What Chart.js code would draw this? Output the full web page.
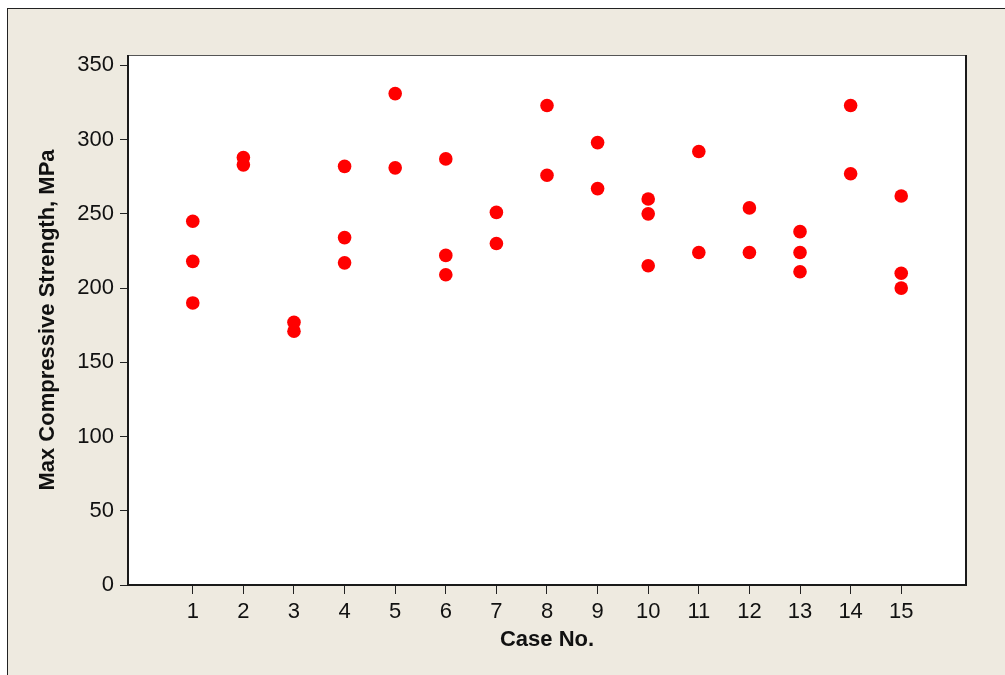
<!DOCTYPE html>
<html>
<head>
<meta charset="utf-8">
<script src="https://cdn.jsdelivr.net/npm/chart.js@4"></script>
<style>
  html, body { margin: 0; padding: 0; background: #ffffff; width: 1005px; height: 675px; overflow: hidden; }
  #frame { position: absolute; left: 7px; top: 8px; width: 1100px; height: 800px;
           background: #eeeae0; border-left: 1px solid #222; border-top: 1px solid #222; }
  #chart { position: absolute; left: 0; top: 0; }
</style>
</head>
<body>
<div id="frame"></div>
<canvas id="chart" width="1005" height="675"></canvas>
<script>
// Case number for each specimen and its measured max compressive strength (MPa)
const caseNo = [
  1, 1, 1,
  2, 2,
  3, 3,
  4, 4, 4,
  5, 5,
  6, 6, 6,
  7, 7,
  8, 8,
  9, 9,
  10, 10, 10,
  11, 11,
  12, 12,
  13, 13, 13,
  14, 14,
  15, 15, 15
];
const strength = [
  245, 218, 190,
  288, 283,
  177, 171,
  282, 234, 217,
  331, 281,
  287, 222, 209,
  251, 230,
  323, 276,
  298, 267,
  260, 250, 215,
  292, 224,
  254, 224,
  238, 224, 211,
  323, 277,
  262, 210, 200
];
const caseTicks = [1, 2, 3, 4, 5, 6, 7, 8, 9, 10, 11, 12, 13, 14, 15];
const strengthTicks = [0, 50, 100, 150, 200, 250, 300, 350];

const textColor = '#111111';
const tickFont = { family: 'Liberation Sans', size: 22 };
const titleFont = { family: 'Liberation Sans', size: 22, weight: 'bold' };

// White plot panel with a dark outline
const plotPanel = {
  id: 'plotPanel',
  beforeDraw(chart) {
    const { ctx, chartArea: a } = chart;
    ctx.save();
    ctx.fillStyle = '#ffffff';
    ctx.fillRect(a.left, a.top, a.right - a.left, a.bottom - a.top);
    ctx.restore();
  },
  afterDraw(chart) {
    const { ctx, chartArea: a } = chart;
    ctx.save();
    ctx.strokeStyle = '#555555';
    ctx.lineWidth = 1;
    ctx.beginPath();
    ctx.moveTo(a.left, a.top + 0.5);
    ctx.lineTo(a.right, a.top + 0.5);
    ctx.stroke();
    ctx.strokeStyle = '#1a1a1a';
    ctx.lineWidth = 2;
    ctx.beginPath();
    ctx.moveTo(a.left, a.top);
    ctx.lineTo(a.left, a.bottom);
    ctx.lineTo(a.right, a.bottom);
    ctx.lineTo(a.right, a.top);
    ctx.stroke();
    ctx.restore();
  }
};

new Chart(document.getElementById('chart'), {
  type: 'scatter',
  data: {
    datasets: [{
      data: caseNo.map((c, i) => ({ x: c, y: strength[i] })),
      pointRadius: 6.8,
      pointHoverRadius: 6.8,
      pointBackgroundColor: '#ff0000',
      pointBorderWidth: 0
    }]
  },
  options: {
    responsive: false,
    devicePixelRatio: 1,
    animation: false,
    layout: { padding: { top: 55, right: 39, left: 0, bottom: 0 } },
    plugins: { legend: { display: false }, tooltip: { enabled: false } },
    scales: {
      x: {
        type: 'linear',
        min: -0.28,
        max: 16.28,
        afterBuildTicks: s => { s.ticks = caseTicks.map(v => ({ value: v })); },
        afterFit: s => { s.height = 90; },
        grid: { display: true, drawOnChartArea: false, drawTicks: true, tickLength: 9, tickColor: '#222', tickWidth: 1 },
        border: { display: false },
        ticks: { font: tickFont, color: textColor, padding: 5, autoSkip: false, maxRotation: 0 },
        title: { display: true, text: 'Case No.', font: titleFont, color: textColor, padding: { top: 0, bottom: 22 } }
      },
      y: {
        type: 'linear',
        min: 0,
        max: 357,
        afterBuildTicks: s => { s.ticks = strengthTicks.map(v => ({ value: v })); },
        afterFit: s => { s.width = 128; },
        grid: { display: true, drawOnChartArea: false, drawTicks: true, tickLength: 8, tickColor: '#222', tickWidth: 1 },
        border: { display: false },
        ticks: { font: tickFont, color: textColor, padding: 6, autoSkip: false },
        title: { display: true, text: 'Max Compressive Strength, MPa', font: titleFont, color: textColor, padding: { top: 35, bottom: 0 } }
      }
    }
  },
  plugins: [plotPanel]
});
</script>
</body>
</html>
